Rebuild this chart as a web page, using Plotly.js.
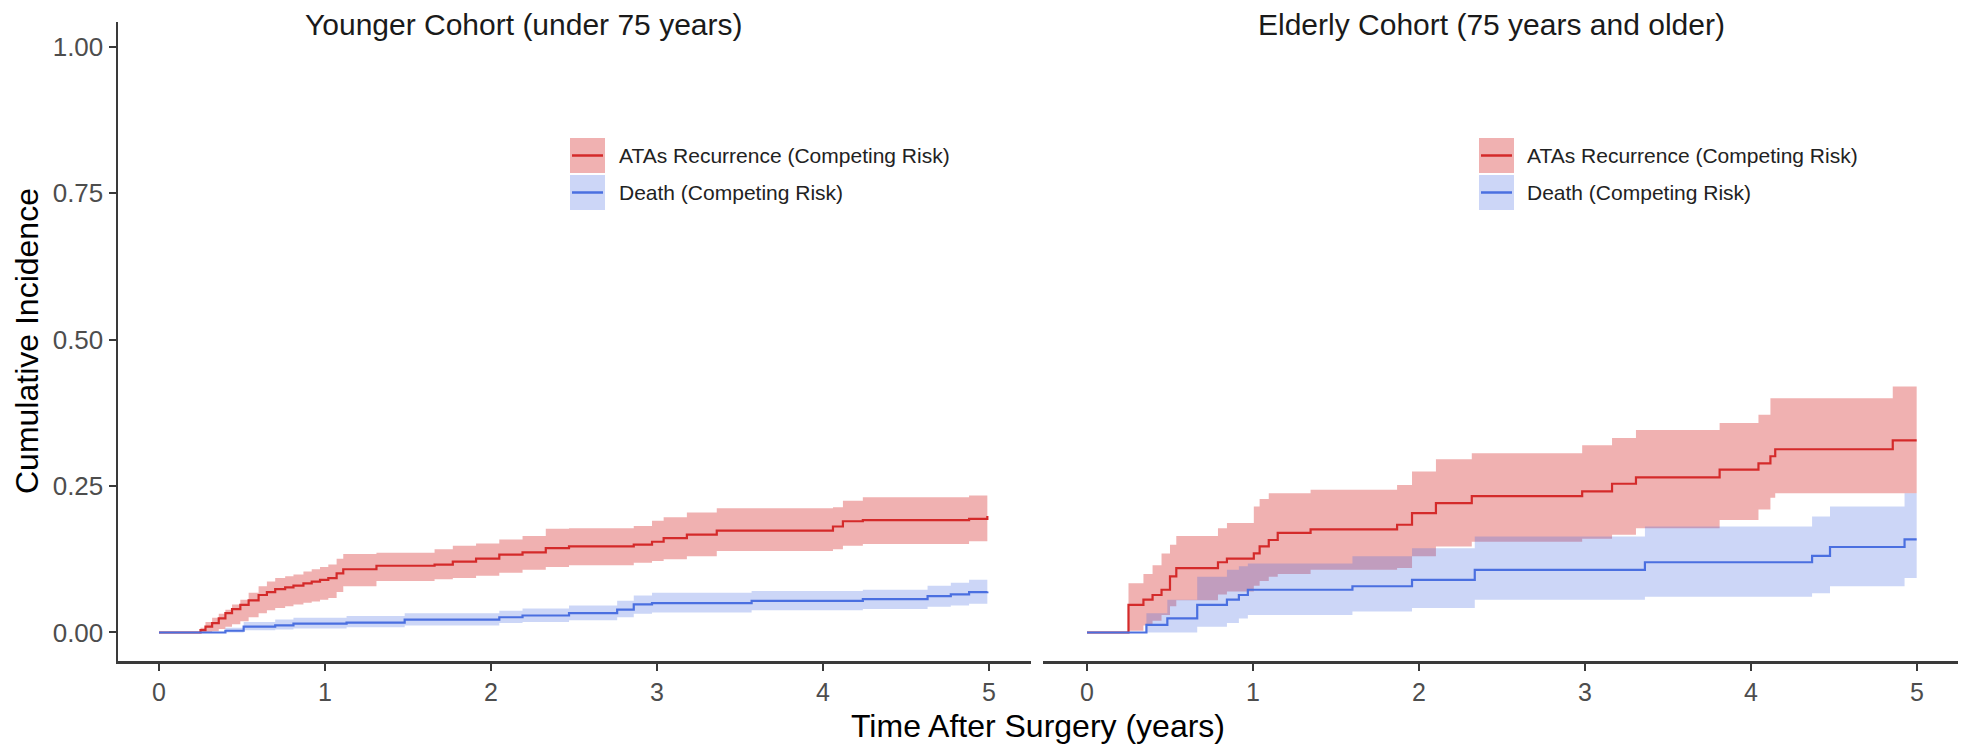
<!DOCTYPE html>
<html>
<head>
<meta charset="utf-8">
<script src="https://cdn.plot.ly/plotly-3.0.1.min.js"></script>
<style>html,body{margin:0;padding:0;background:#fff;}#chart{width:1966px;height:747px;}</style>
</head>
<body>
<div id="chart"></div>
<script>
// ---------- DATA ----------
const panelTitles = ["Younger Cohort (under 75 years)", "Elderly Cohort (75 years and older)"];
const seriesNames = ["ATAs Recurrence (Competing Risk)", "Death (Competing Risk)"];
const xTickVals = [0, 1, 2, 3, 4, 5];
const yTickVals = [0, 0.25, 0.5, 0.75, 1];
const yTickText = ["0.00", "0.25", "0.50", "0.75", "1.00"];
const xTitle = "Time After Surgery (years)";
const yTitle = "Cumulative Incidence";

// Younger cohort – ATAs recurrence
const youngRecTime = [0, 0.25, 0.28, 0.32, 0.36, 0.40, 0.44, 0.49, 0.54, 0.60, 0.65, 0.70, 0.76, 0.81, 0.87, 0.92, 0.97, 1.02, 1.07, 1.11, 1.31, 1.66, 1.77, 1.91, 2.05, 2.19, 2.33, 2.47, 2.86, 2.97, 3.04, 3.18, 3.36, 4.06, 4.12, 4.24, 4.88, 4.99];
const youngRecEst  = [0, 0.004, 0.010, 0.016, 0.024, 0.033, 0.040, 0.047, 0.055, 0.064, 0.069, 0.074, 0.077, 0.080, 0.084, 0.087, 0.090, 0.093, 0.101, 0.108, 0.114, 0.116, 0.121, 0.126, 0.133, 0.137, 0.144, 0.147, 0.150, 0.155, 0.161, 0.167, 0.174, 0.181, 0.190, 0.192, 0.194, 0.199];
const youngRecHi   = [0, 0.008, 0.018, 0.025, 0.032, 0.039, 0.048, 0.056, 0.068, 0.079, 0.087, 0.093, 0.096, 0.099, 0.104, 0.108, 0.112, 0.116, 0.126, 0.134, 0.136, 0.142, 0.148, 0.152, 0.159, 0.165, 0.177, 0.178, 0.182, 0.191, 0.197, 0.205, 0.212, 0.214, 0.225, 0.231, 0.234, 0.240];
const youngRecLo   = [0, 0.000, 0.001, 0.002, 0.006, 0.010, 0.014, 0.019, 0.026, 0.033, 0.038, 0.042, 0.045, 0.048, 0.051, 0.053, 0.056, 0.059, 0.069, 0.079, 0.088, 0.091, 0.093, 0.097, 0.102, 0.107, 0.112, 0.115, 0.119, 0.122, 0.125, 0.130, 0.139, 0.142, 0.148, 0.151, 0.156, 0.160];

// Younger cohort – death
const youngDeathTime = [0, 0.40, 0.51, 0.70, 0.81, 1.13, 1.48, 2.05, 2.19, 2.47, 2.76, 2.86, 2.97, 3.57, 4.24, 4.63, 4.77, 4.88, 4.99];
const youngDeathEst  = [0, 0.003, 0.010, 0.012, 0.015, 0.017, 0.022, 0.026, 0.029, 0.033, 0.039, 0.048, 0.050, 0.054, 0.057, 0.062, 0.065, 0.069, 0.070];
const youngDeathHi   = [0, 0.008, 0.018, 0.022, 0.025, 0.028, 0.033, 0.037, 0.041, 0.046, 0.054, 0.063, 0.068, 0.071, 0.073, 0.080, 0.085, 0.090, 0.094];
const youngDeathLo   = [0, 0.000, 0.004, 0.005, 0.007, 0.009, 0.012, 0.016, 0.018, 0.021, 0.026, 0.032, 0.034, 0.038, 0.040, 0.044, 0.046, 0.049, 0.050];

// Elderly cohort – ATAs recurrence
const oldRecTime = [0, 0.25, 0.34, 0.395, 0.449, 0.50, 0.538, 0.789, 0.843, 1.005, 1.04, 1.095, 1.149, 1.347, 1.868, 1.958, 2.102, 2.318, 2.983, 3.163, 3.307, 3.811, 4.045, 4.117, 4.146, 4.854, 4.998];
const oldRecEst  = [0, 0.047, 0.056, 0.064, 0.073, 0.096, 0.110, 0.120, 0.126, 0.135, 0.147, 0.158, 0.170, 0.176, 0.184, 0.204, 0.221, 0.233, 0.241, 0.254, 0.265, 0.278, 0.289, 0.301, 0.313, 0.328, 0.328];
const oldRecHi   = [0, 0.084, 0.100, 0.115, 0.135, 0.150, 0.165, 0.178, 0.187, 0.215, 0.228, 0.238, 0.238, 0.244, 0.252, 0.275, 0.296, 0.306, 0.320, 0.332, 0.346, 0.358, 0.372, 0.400, 0.400, 0.420, 0.420];
const oldRecLo   = [0, 0.003, 0.012, 0.020, 0.030, 0.045, 0.055, 0.065, 0.070, 0.080, 0.088, 0.095, 0.100, 0.107, 0.110, 0.130, 0.147, 0.155, 0.160, 0.167, 0.178, 0.192, 0.210, 0.230, 0.238, 0.238, 0.238];

// Elderly cohort – death
const oldDeathTime = [0, 0.358, 0.484, 0.664, 0.843, 0.915, 0.969, 1.599, 1.958, 2.336, 3.361, 4.368, 4.476, 4.925, 4.998];
const oldDeathEst  = [0, 0.013, 0.024, 0.047, 0.056, 0.064, 0.073, 0.079, 0.090, 0.107, 0.120, 0.131, 0.146, 0.159, 0.159];
const oldDeathHi   = [0, 0.033, 0.056, 0.095, 0.107, 0.113, 0.118, 0.130, 0.144, 0.164, 0.181, 0.198, 0.215, 0.238, 0.238];
const oldDeathLo   = [0, 0.000, 0.000, 0.010, 0.016, 0.024, 0.030, 0.036, 0.042, 0.056, 0.061, 0.067, 0.079, 0.093, 0.093];

// ---------- STYLE ----------
const FONT = "Liberation Sans, Arial, Helvetica, sans-serif";
const RED = "#D42A2A", RED_FILL = "rgba(214,40,40,0.36)";
const BLUE = "#4A6FE0", BLUE_FILL = "rgba(65,105,225,0.27)";
const AXC = "#3a3a3a";

const W = 1966, H = 747;
const M = {l: 118, r: 8, t: 22, b: 86};
const PW = W - M.l - M.r, PH = H - M.t - M.b;
const px = x => (x - M.l) / PW;
const py = y => (H - M.b - y) / PH;

function band(t, lo, hi, fill, xa, ya) {
  return [
    {x: t, y: hi, type: "scatter", mode: "lines", line: {width: 0, shape: "hv"}, xaxis: xa, yaxis: ya, showlegend: false, hoverinfo: "skip"},
    {x: t, y: lo, type: "scatter", mode: "lines", line: {width: 0, shape: "hv"}, fill: "tonexty", fillcolor: fill, xaxis: xa, yaxis: ya, showlegend: false, hoverinfo: "skip"}
  ];
}
function line(t, est, color, xa, ya, name) {
  return {x: t, y: est, type: "scatter", mode: "lines", name: name, line: {width: 2.2, shape: "hv", color: color}, xaxis: xa, yaxis: ya, showlegend: false};
}

const traces = [].concat(
  band(youngRecTime, youngRecLo, youngRecHi, RED_FILL, "x", "y"),
  band(youngDeathTime, youngDeathLo, youngDeathHi, BLUE_FILL, "x", "y"),
  [line(youngRecTime, youngRecEst, RED, "x", "y", seriesNames[0]),
   line(youngDeathTime, youngDeathEst, BLUE, "x", "y", seriesNames[1])],
  band(oldRecTime, oldRecLo, oldRecHi, RED_FILL, "x2", "y2"),
  band(oldDeathTime, oldDeathLo, oldDeathHi, BLUE_FILL, "x2", "y2"),
  [line(oldRecTime, oldRecEst, RED, "x2", "y2", seriesNames[0]),
   line(oldDeathTime, oldDeathEst, BLUE, "x2", "y2", seriesNames[1])]
);

const xCommon = {
  tickvals: xTickVals, ticks: "outside", ticklen: 7, tickwidth: 2, tickcolor: AXC,
  showline: true, linecolor: AXC, linewidth: 2.5, showgrid: false, zeroline: false,
  tickfont: {family: FONT, size: 25, color: "#4d4d4d"}, fixedrange: true
};
const yRange = [-0.0487, 1.0427];

const annotations = [];
const shapes = [];
function txt(text, x, y, size, opts) {
  annotations.push(Object.assign({text: text, xref: "paper", yref: "paper", x: px(x), y: py(y),
    showarrow: false, font: {family: FONT, size: size, color: "#1a1a1a"}, xanchor: "center", yanchor: "middle"}, opts || {}));
}
txt(panelTitles[0], 524, 25, 30);
txt(panelTitles[1], 1491, 25, 30);
txt(xTitle, 1038, 726, 32, {font: {family: FONT, size: 32, color: "#000"}});
txt(yTitle, 27, 341, 32, {textangle: -90, font: {family: FONT, size: 32, color: "#000"}});

// legends (ggplot-style keys)
function legend(x0, textX) {
  const keys = [[138, 173, RED_FILL, RED], [175, 210, BLUE_FILL, BLUE]];
  keys.forEach((k, i) => {
    shapes.push({type: "rect", xref: "paper", yref: "paper", x0: px(x0), x1: px(x0 + 35), y0: py(k[1]), y1: py(k[0]), fillcolor: k[2], line: {width: 0}});
    const yc = (k[0] + k[1]) / 2;
    shapes.push({type: "line", xref: "paper", yref: "paper", x0: px(x0 + 2), x1: px(x0 + 33), y0: py(yc), y1: py(yc), line: {color: k[3], width: 2.5}});
    txt(seriesNames[i], textX, yc, 21, {xanchor: "left", font: {family: FONT, size: 21, color: "#222"}});
  });
}
legend(570, 617);
legend(1479, 1525);

const layout = {
  width: W, height: H, margin: M, paper_bgcolor: "#fff", plot_bgcolor: "#fff",
  showlegend: false,
  xaxis: Object.assign({}, xCommon, {domain: [0, px(1031)], range: [-0.247, 5.253], anchor: "y"}),
  xaxis2: Object.assign({}, xCommon, {domain: [px(1043), 1], range: [-0.265, 5.247], anchor: "y2"}),
  yaxis: {domain: [0, 1], range: yRange, tickvals: yTickVals, ticktext: yTickText, ticks: "outside", ticklen: 7, tickwidth: 2, tickcolor: AXC,
    showline: true, linecolor: AXC, linewidth: 2.5, showgrid: false, zeroline: false, anchor: "x",
    tickfont: {family: FONT, size: 26, color: "#4d4d4d"}, fixedrange: true},
  yaxis2: {domain: [0, 1], range: yRange, showline: false, showticklabels: false, ticks: "", showgrid: false, zeroline: false, anchor: "x2", fixedrange: true},
  annotations: annotations, shapes: shapes
};

Plotly.newPlot("chart", traces, layout, {displayModeBar: false, staticPlot: true});
</script>
</body>
</html>
